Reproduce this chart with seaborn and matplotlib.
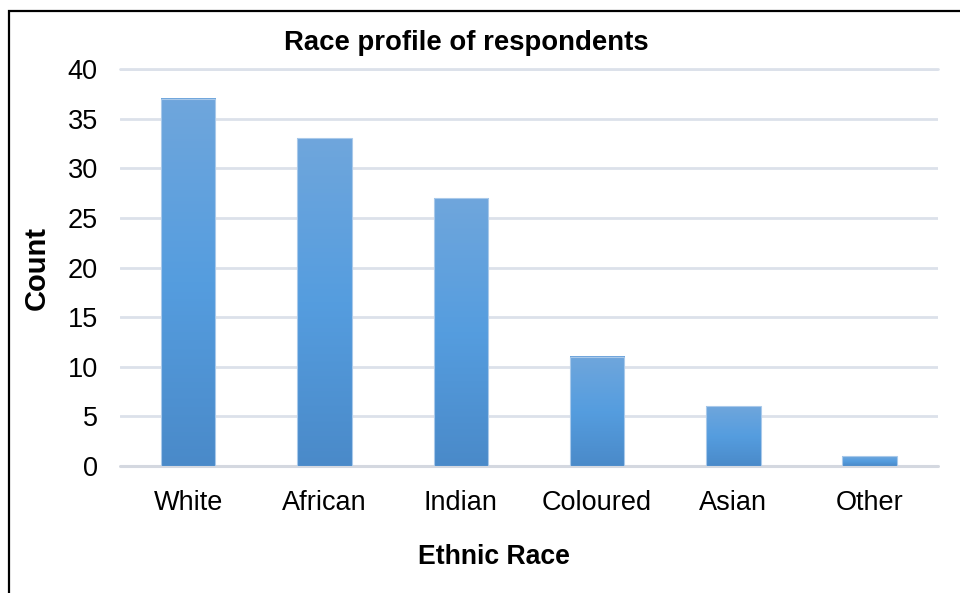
import numpy as np
import pandas as pd
import matplotlib
matplotlib.use("Agg")
import matplotlib.pyplot as plt
from matplotlib.colors import LinearSegmentedColormap
from matplotlib.patches import Rectangle
import seaborn as sns

categories = ["White", "African", "Indian", "Coloured", "Asian", "Other"]
counts = [37, 33, 27, 11, 6, 1]
y_ticks = [0, 5, 10, 15, 20, 25, 30, 35, 40]

df = pd.DataFrame({"Ethnic Race": categories, "Count": counts})

sns.set_theme(style="white")
plt.rcParams["font.family"] = ["Liberation Sans", "DejaVu Sans"]
plt.rcParams["text.color"] = "black"

fig = plt.figure(figsize=(9.6, 5.93), dpi=100)
ax = fig.add_axes([0.125, 0.2142, 0.977 - 0.125, 0.8836 - 0.2142])

sns.barplot(data=df, x="Ethnic Race", y="Count", order=categories,
            color="#5b9bd5", width=0.4, ax=ax, zorder=2)

# vertical gradient fill for each bar, lighter at the top
grad = LinearSegmentedColormap.from_list(
    "bar_grad", ["#4a8ac9", "#559ddf", "#6fa6dc"])
g = np.linspace(0, 1, 256).reshape(-1, 1)
for p in ax.patches:
    x0, y0 = p.get_x(), p.get_y()
    w, h = p.get_width(), p.get_height()
    p.set_facecolor("none")
    p.set_edgecolor("#a9c9ea")
    p.set_linewidth(0.8)
    p.set_zorder(4)
    ax.imshow(g, cmap=grad, origin="lower", aspect="auto",
              extent=(x0, x0 + w, y0, y0 + h), zorder=3, interpolation="bilinear")

ax.set_xlim(-0.5, len(categories) - 0.5)
ax.set_ylim(0, 40)
ax.set_yticks(y_ticks)
ax.set_yticklabels([str(t) for t in y_ticks])
ax.grid(axis="y", color="#dce1ea", linewidth=2, zorder=0)
ax.set_axisbelow(True)
for s in ax.spines.values():
    s.set_visible(False)
ax.axhline(0, color="#d4d8e0", linewidth=2.2, zorder=1, clip_on=False)
ax.axhline(40, color="#dce1ea", linewidth=2, zorder=0, clip_on=False)

ax.tick_params(axis="y", length=0, pad=16, labelsize=19.5, colors="black")
ax.tick_params(axis="x", length=0, pad=17, labelsize=19.5, colors="black")
ax.set_xlabel("")
ax.set_ylabel("")

fig.text(466 / 960, 1 - 43 / 593, "Race profile of respondents", color="black",
         ha="center", va="center", fontsize=19.8, fontweight="bold")
fig.text(494 / 960, 1 - 557 / 593, "Ethnic Race", color="black",
         ha="center", va="center", fontsize=19.2, fontweight="bold")
fig.text(37 / 960, 1 - 268 / 593, "Count", rotation=90, color="black",
         ha="center", va="center", fontsize=21, fontweight="bold")

# chart frame
fig.patches.append(Rectangle((8.5 / 960, -0.2), 2.0, 0.2 + 1 - 11 / 593,
                             transform=fig.transFigure, fill=False,
                             edgecolor="black", linewidth=1.6, clip_on=False))

fig.savefig("out.png", dpi=100)
